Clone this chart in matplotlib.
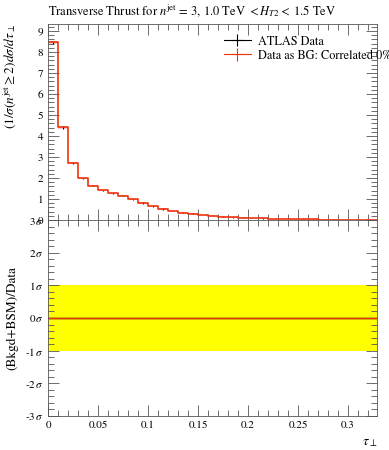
import numpy as np
import matplotlib
matplotlib.use("Agg")
import matplotlib.pyplot as plt
from matplotlib.ticker import MultipleLocator, FuncFormatter

plt.rcParams["font.family"] = "STIXGeneral"
plt.rcParams["mathtext.fontset"] = "stix"

# bin edges in tau_perp and values
edges = np.round(np.arange(0.0, 0.331, 0.01), 3)
values = [8.45, 4.41, 2.70, 1.98, 1.64, 1.42, 1.27, 1.15, 0.99, 0.81,
          0.65, 0.52, 0.43, 0.35, 0.29, 0.24, 0.19, 0.16, 0.13, 0.11,
          0.09, 0.075, 0.06, 0.05, 0.04, 0.033, 0.027, 0.022, 0.018, 0.014,
          0.011, 0.009, 0.007]
errors = [0.08, 0.06, 0.04, 0.03, 0.03, 0.03, 0.03, 0.03, 0.03, 0.03,
          0.03, 0.03, 0.02, 0.02, 0.02, 0.02, 0.02, 0.02, 0.015, 0.015,
          0.01, 0.01, 0.01, 0.01, 0.01, 0.01, 0.01, 0.01, 0.01, 0.01,
          0.01, 0.01, 0.01]
sigma_ticks = [-3, -2, -1, 0, 1, 2, 3]

red = "#ee3311"
values = np.array(values)
errors = np.array(errors)
centers = 0.5 * (edges[:-1] + edges[1:])
step_y = np.append(values, values[-1])

fig = plt.figure(figsize=(3.89, 4.5), dpi=100)
ax = fig.add_axes([0.124, 0.5111, 0.845, 0.4356])
rax = fig.add_axes([0.124, 0.0756, 0.845, 0.4355])

# main panel
ax.errorbar(centers, values, yerr=errors, fmt="none", ecolor="black", lw=0.8)
ax.fill_between(edges, np.append(values - errors, values[-1] - errors[-1]),
                np.append(values + errors, values[-1] + errors[-1]),
                step="post", color=red, alpha=0.25, lw=0)
ax.step(edges, step_y, where="post", color=red, lw=1.2)
ax.set_xlim(0, 0.329)
ax.set_ylim(0, 9.33)
ax.xaxis.set_major_locator(MultipleLocator(0.05))
ax.xaxis.set_minor_locator(MultipleLocator(0.01))
ax.yaxis.set_major_locator(MultipleLocator(1))
ax.yaxis.set_minor_locator(MultipleLocator(0.2))
ax.tick_params(labelbottom=False)
ax.set_title(r"Transverse Thrust for $n^{\mathrm{jet}}$ = 3, 1.0 TeV $< H_{T2} <$ 1.5 TeV",
             loc="left", fontsize=9, pad=6)
ax.set_ylabel(r"$(1/\sigma(n^{\mathrm{jet}} \geq 2)d\sigma/d\tau_{\perp}$", fontsize=9.5)
ax.yaxis.set_label_coords(-0.092, 1.0)
ax.yaxis.label.set_ha("right")

# legend
h1 = ax.errorbar([], [], xerr=[], yerr=[], color="black", lw=0.8)
h2 = ax.errorbar([], [], xerr=[], yerr=[], color=red, lw=0.8)
leg = ax.legend([h1, h2], ["ATLAS Data", "Data as BG: Correlated 0%"],
                loc="upper left", bbox_to_anchor=(0.52, 0.965), frameon=False,
                fontsize=8.8, handlelength=2.2, handletextpad=0.6, labelspacing=0.2,
                borderaxespad=0)

# ratio panel
rax.axhspan(-1, 1, color="yellow", lw=0)
rax.axhline(0, color="black", lw=1.0)
rax.step(edges, np.zeros_like(step_y), where="post", color=red, lw=1.0)
rax.set_xlim(0, 0.329)
rax.set_ylim(-3, 3)
rax.set_yticks(sigma_ticks)
rax.yaxis.set_major_formatter(FuncFormatter(lambda v, p: "%d$\\,\\sigma$" % v))
rax.yaxis.set_minor_locator(MultipleLocator(0.2))
rax.xaxis.set_major_locator(MultipleLocator(0.05))
rax.xaxis.set_minor_locator(MultipleLocator(0.01))
rax.xaxis.set_major_formatter(FuncFormatter(lambda v, p: "0" if v == 0 else ("%.2f" % v).rstrip("0")))
rax.set_ylabel("(Bkgd+BSM)/Data", fontsize=9.5)
rax.yaxis.set_label_coords(-0.092, 0.5)
rax.set_xlabel(r"$\tau_{\perp}$", fontsize=10, loc="right")

for a in (ax, rax):
    a.tick_params(which="both", direction="in", top=True, right=True, labelsize=8,
                  color="#555555")
    a.tick_params(which="major", length=8, width=0.6)
    a.tick_params(which="minor", length=4, width=0.6)
    for s in a.spines.values():
        s.set_linewidth(0.6)
        s.set_color("#555555")

fig.savefig("out.png", dpi=100)
